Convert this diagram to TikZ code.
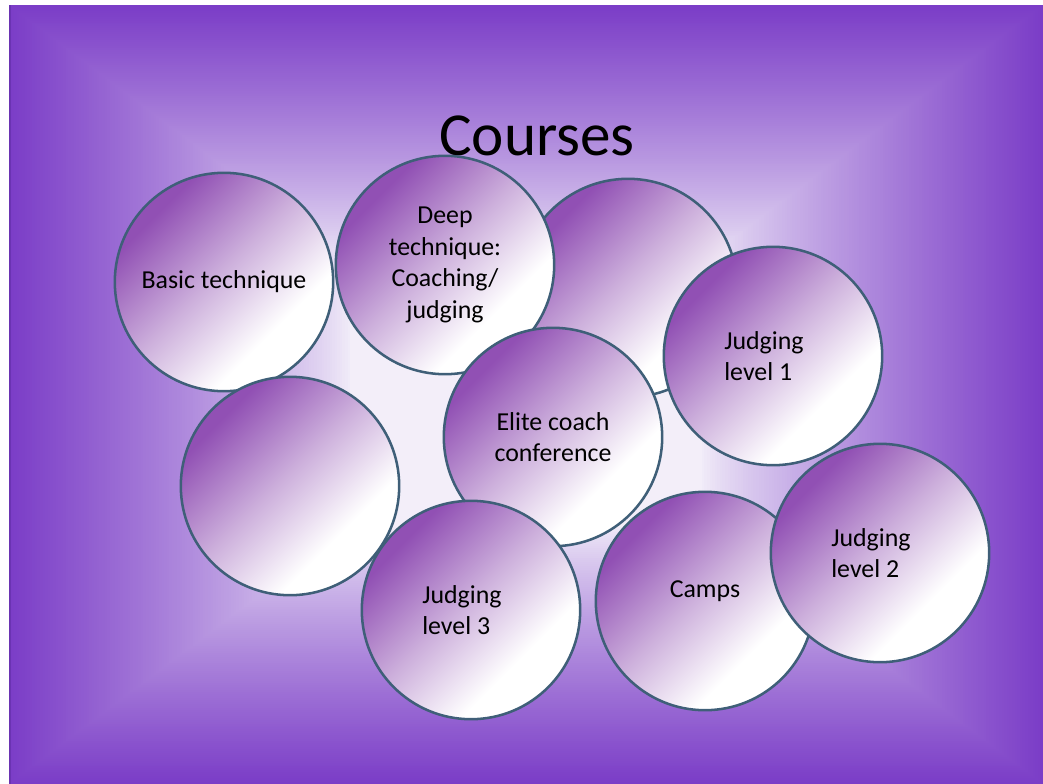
\documentclass[tikz,border=0pt]{standalone}
\usepackage{fontspec}
\setmainfont{Carlito}
\usepackage{tikz}
\definecolor{CRBack}{HTML}{7B3DC7}
\definecolor{CRGlow}{HTML}{F3EFF9}
\definecolor{CRFrame}{HTML}{6A33B2}
\definecolor{CROrb}{HTML}{9150B4}
\definecolor{CROrbMid}{HTML}{CDB0DC}
\definecolor{CRLine}{HTML}{3F5F78}
\pgfdeclarehorizontalshading{orbfade}{100bp}{color(0bp)=(CROrb); color(28bp)=(CROrb); color(48bp)=(CROrbMid); color(66bp)=(white); color(100bp)=(white)}
\tikzset{
  orb/.style={circle,draw=CRLine,line width=1.8pt,minimum size=54.6mm,inner sep=0pt,shade,shading=orbfade,shading angle=-45,align=center,font=\fontsize{18.4}{22.4}\selectfont},
  orbleft/.style={orb,align=left}
}

\begin{document}
\begin{tikzpicture}[x=0.25mm,y=-0.25mm]
    \useasboundingbox (0,0) rectangle (1043,784);
    \fill[white] (0,0) rectangle (1043,784);
    % slide background, rectangular glow from the middle
    \foreach \i in {0,...,199} {
      \pgfmathsetmacro{\sz}{1-\i/200}
      \pgfmathsetmacro{\pc}{100*max(0.001,min(1,(\sz-0.34)/0.66))^0.78}
      \fill[CRBack!\pc!CRGlow] ({526-\sz*517},{394-\sz*389}) rectangle ({526+\sz*517},{394+\sz*390});
    }
    \draw[CRFrame,line width=1.2pt] (10,5) -- (10,784);
    \node[font=\fontsize{43.5}{52}\selectfont,anchor=base] (heading) at (537,155) {Courses};
    % circles, back to front
    \node[orb] (blankR) at (628,288) {};
    \node[orb] (basic) at (224,282) {Basic technique};
    \node[orb] (deep) at (445,265) {Deep\\technique:\\Coaching/\\judging};
    \node[orbleft] (judge1) at (773,356) {Judging\hspace*{0.7em}\\level 1};
    \node[orb] (elite) at (553,437) {Elite coach\\conference};
    \node[orb] (blankL) at (290,486) {};
    \node[orbleft] (judge3) at (471,610) {Judging\hspace*{0.7em}\\level 3};
    \node[orb,text depth=5.8mm] (camps) at (705,601) {Camps};
    \node[orbleft] (judge2) at (880,553) {Judging\hspace*{0.7em}\\level 2};
  \end{tikzpicture}
\end{document}
